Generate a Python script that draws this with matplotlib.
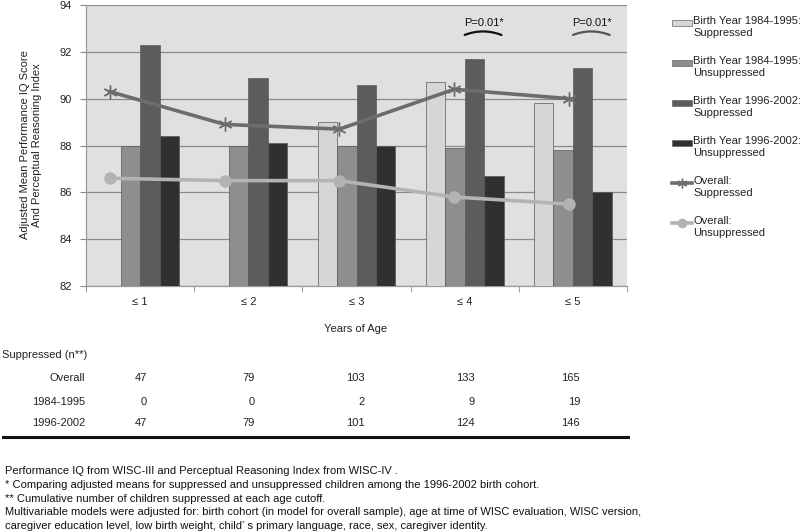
import numpy as np
import matplotlib
matplotlib.use("Agg")
import matplotlib.pyplot as plt
from matplotlib.patches import Rectangle
from matplotlib.lines import Line2D

plt.rcParams['font.family'] = ['Liberation Sans', 'DejaVu Sans']

# ---------------- data ----------------
categories = ["\u2264 1", "\u2264 2", "\u2264 3", "\u2264 4", "\u2264 5"]
bar_labels = ["Birth Year 1984-1995:\nSuppressed",
              "Birth Year 1984-1995:\nUnsuppressed",
              "Birth Year 1996-2002:\nSuppressed",
              "Birth Year 1996-2002:\nUnsuppressed"]
supp_8495 = [np.nan, np.nan, 89.0, 90.7, 89.8]
unsupp_8495 = [88.0, 88.0, 88.0, 87.9, 87.8]
supp_9602 = [92.3, 90.9, 90.6, 91.7, 91.3]
unsupp_9602 = [88.4, 88.1, 88.0, 86.7, 86.0]
line_labels = ["Overall:\nSuppressed", "Overall:\nUnsuppressed"]
overall_supp = [90.3, 88.9, 88.7, 90.4, 90.0]
overall_unsupp = [86.6, 86.5, 86.5, 85.8, 85.5]
pvalue_text = ["", "", "", "P=0.01*", "P=0.01*"]

table_title = "Suppressed (n**)"
row_labels = ["Overall", "1984-1995", "1996-2002"]
n_overall = [47, 79, 103, 133, 165]
n_8495 = [0, 0, 2, 9, 19]
n_9602 = [47, 79, 101, 124, 146]

footnotes = [
    "Performance IQ from WISC-III and Perceptual Reasoning Index from WISC-IV .",
    "* Comparing adjusted means for suppressed and unsuppressed children among the 1996-2002 birth cohort.",
    "** Cumulative number of children suppressed at each age cutoff.",
    "Multivariable models were adjusted for: birth cohort (in model for overall sample), age at time of WISC evaluation, WISC version,",
    "caregiver education level, low birth weight, child\u02bc s primary language, race, sex, caregiver identity.",
]

# ---------------- figure ----------------
W, H = 800, 532
fig = plt.figure(figsize=(8, 5.32), dpi=100)

def fx(px):
    return px / W

def fy(py):
    return 1 - py / H

ax = fig.add_axes([fx(86), fy(286), fx(627) - fx(86), fy(5) - fy(286)])
ax.set_facecolor("#e0e0e0")

bar_colors = ["#d6d6d6", "#8e8e8e", "#5c5c5c", "#303030"]
series = [supp_8495, unsupp_8495, supp_9602, unsupp_9602]
x = np.arange(len(categories))
bw = 0.18
offsets = [-1.5 * bw, -0.5 * bw, 0.5 * bw, 1.5 * bw]
for vals, col, off in zip(series, bar_colors, offsets):
    ax.bar(x + off, vals, width=bw, color=col, edgecolor="#5a5a5a",
           linewidth=0.5, zorder=3)

ax.set_xlim(-0.5, len(categories) - 0.5)
ax.set_ylim(82, 94)
ax.set_yticks(np.arange(82, 95, 2))
ax.yaxis.grid(True, color="#8a8a8a", linewidth=0.9, zorder=0)
ax.set_axisbelow(True)
ax.set_xticks(x)
ax.set_xticklabels(categories, fontsize=8, color="#222222")
ax.set_xticks(np.arange(-0.5, len(categories), 1.0), minor=True)
ax.tick_params(axis="x", which="major", length=0, pad=8)
ax.tick_params(axis="x", which="minor", length=4, color="#888888", direction="out")
ax.tick_params(axis="y", length=4, color="#888888", labelsize=8, labelcolor="#222222", pad=6)
for s in ["top", "right"]:
    ax.spines[s].set_visible(False)
for s in ["left", "bottom"]:
    ax.spines[s].set_color("#999999")
    ax.spines[s].set_linewidth(0.9)

# lines on a secondary x-scale (points are spread differently than bars)
ax2 = ax.twiny()
ax2.set_xlim(-0.209, 4.506)
ax2.set_ylim(82, 94)
ax2.axis("off")
supp_col = "#6c6c6c"
unsupp_col = "#b3b3b3"
ax2.plot(x, overall_supp, color=supp_col, linewidth=2.6, marker=(6, 2, 0),
         markersize=10, markeredgewidth=1.0, markeredgecolor=supp_col, zorder=5)
ax2.plot(x, overall_unsupp, color=unsupp_col, linewidth=2.6, marker="o",
         markersize=8, markeredgecolor=unsupp_col, zorder=5)

# p-value annotations with arcs
arc_colors = ["#111111", "#555555"]
k = 0
for i, t in enumerate(pvalue_text):
    if not t:
        continue
    ax.text(i + 0.18, 93.22, t, ha="center", va="center", fontsize=8, color="#111111")
    xs = np.linspace(i + 0.0, i + 0.34, 40)
    c = i + 0.17
    ys = 92.72 + 0.15 * (1 - ((xs - c) / 0.17) ** 2)
    ax.plot(xs, ys, color=arc_colors[k], linewidth=1.6, solid_capstyle="round", zorder=6)
    k += 1

# y label
fig.text(fx(31), fy(145), "Adjusted Mean Performance IQ Score\nAnd Perceptual Reasoning Index",
         rotation=90, ha="center", va="center", fontsize=8, color="#222222",
         multialignment="center", linespacing=1.15)

# x label
fig.text(fx(356), fy(329), "Years of Age", ha="center", va="center", fontsize=8, color="#222222")

# manual legend
for kk, (lab, col) in enumerate(zip(bar_labels, bar_colors)):
    yc = 23 + 40 * kk
    fig.patches.append(Rectangle((fx(672), fy(yc + 3)), fx(692) - fx(672), fy(yc - 3) - fy(yc + 3),
                                 transform=fig.transFigure, facecolor=col,
                                 edgecolor="#666666", linewidth=0.5))
    fig.text(fx(693), fy(yc - 7), lab, ha="left", va="top", fontsize=8,
             color="#222222", linespacing=1.2)
for kk, (lab, col, mk, ms) in enumerate(zip(line_labels, [supp_col, unsupp_col],
                                             [(6, 2, 0), "o"], [7, 6])):
    yc = 23 + 40 * (kk + 4)
    fig.lines.append(Line2D([fx(672), fx(692)], [fy(yc), fy(yc)], transform=fig.transFigure,
                            color=col, linewidth=2.6))
    fig.lines.append(Line2D([fx(682)], [fy(yc)], transform=fig.transFigure, color=col,
                            marker=mk, markersize=ms, markeredgecolor=col, linestyle="none"))
    fig.text(fx(693), fy(yc - 7), lab, ha="left", va="top", fontsize=8,
             color="#222222", linespacing=1.2)

# table
fig.text(fx(2), fy(355), table_title, ha="left", va="center", fontsize=8, color="#222222")
col_right = [147, 255, 365, 475, 580]
row_y = [378, 402, 423]
for lab, vals, yy in zip(row_labels, [n_overall, n_8495, n_9602], row_y):
    fig.text(fx(85), fy(yy), lab, ha="right", va="center", fontsize=8, color="#222222")
    for v, xr in zip(vals, col_right):
        fig.text(fx(xr), fy(yy), str(v), ha="right", va="center", fontsize=8, color="#222222")
fig.lines.append(Line2D([fx(3), fx(628)], [fy(437), fy(437)], transform=fig.transFigure,
                        color="#111111", linewidth=2.2))

# footnotes
for j, t in enumerate(footnotes):
    fig.text(fx(5), fy(471 + 13.8 * j), t, ha="left", va="center", fontsize=8, color="#111111")

fig.savefig("out.png", dpi=100)
